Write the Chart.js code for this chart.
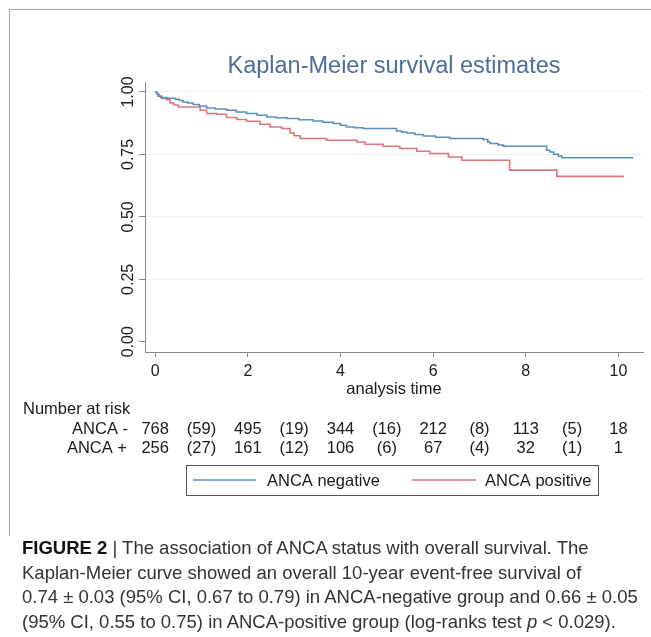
<!DOCTYPE html>
<html lang="en">

<head>
    <meta charset="UTF-8">
    <title>Kaplan-Meier survival estimates</title>
    <style>
        body { margin: 0; background: #fff; }
        #wrap { position: relative; width: 651px; height: 637px; overflow: hidden; }
        #caption {
            position: absolute; left: 22px; top: 536px;
            font-family: "Liberation Sans", Arial, sans-serif;
            font-size: 18.5px; line-height: 24.7px; color: #333;
            white-space: nowrap;
        }
        #caption b { color: #111; }
    </style>
</head>

<body>
    <div id="wrap">
        <canvas id="grafico1" width="651" height="637"></canvas>
        <div id="caption"><b>FIGURE 2</b> | The association of ANCA status with overall survival. The<br>Kaplan-Meier curve showed an overall 10-year event-free survival of<br>0.74 ± 0.03 (95% CI, 0.67 to 0.79) in ANCA-negative group and 0.66 ± 0.05<br>(95% CI, 0.55 to 0.75) in ANCA-positive group (log-ranks test <i>p</i> &lt; 0.029).</div>
    </div>

    <script src="https://cdn.jsdelivr.net/npm/chart.js"></script>
    <script>
        // curve: time (years) and survival after each step
        const tempoNeg = [0, 0.04, 0.08, 0.12, 0.25, 0.43, 0.52, 0.60, 0.70, 0.82, 0.95, 1.11, 1.30, 1.54, 1.75, 1.97,
            2.20, 2.41, 2.60, 2.84, 3.10, 3.41, 3.62, 3.85, 4.00, 4.13, 4.30, 4.49, 5.21, 5.32, 5.43, 5.60, 5.79,
            6.05, 6.36, 7.08, 7.18, 7.23, 7.40, 7.52, 8.45, 8.52, 8.60, 8.70, 8.78, 10.32]
        const survNeg = [1, 0.992, 0.984, 0.978, 0.975, 0.971, 0.966, 0.960, 0.956, 0.950, 0.944, 0.936, 0.932, 0.927, 0.920, 0.914,
            0.907, 0.900, 0.897, 0.894, 0.889, 0.884, 0.879, 0.874, 0.867, 0.860, 0.857, 0.854, 0.844, 0.840, 0.836, 0.830, 0.824,
            0.819, 0.814, 0.810, 0.800, 0.794, 0.788, 0.783, 0.767, 0.760, 0.751, 0.744, 0.737, 0.737]

        const tempoPos = [0, 0.03, 0.06, 0.14, 0.25, 0.32, 0.40, 0.50, 0.97, 1.11, 1.33, 1.54, 1.76, 1.97, 2.26, 2.48,
            2.73, 2.91, 3.00, 3.13, 3.70, 4.35, 4.53, 4.92, 5.28, 5.65, 5.93, 6.33, 6.62, 7.65, 8.67, 10.12]
        const survPos = [1, 0.992, 0.983, 0.974, 0.969, 0.956, 0.948, 0.940, 0.927, 0.914, 0.911, 0.898, 0.890, 0.883, 0.871, 0.860,
            0.854, 0.836, 0.825, 0.814, 0.807, 0.800, 0.791, 0.783, 0.774, 0.763, 0.754, 0.740, 0.727, 0.687, 0.662, 0.662]

        const ticksX = [0, 2, 4, 6, 8, 10]
        const ticksY = [0, 0.25, 0.5, 0.75, 1]
        const labelsY = ['0.00', '0.25', '0.50', '0.75', '1.00']

        // number at risk, one column per year (events in brackets)
        const colunasRisco = [0, 1, 2, 3, 4, 5, 6, 7, 8, 9, 10]
        const riscoNeg = ['768', '(59)', '495', '(19)', '344', '(16)', '212', '(8)', '113', '(5)', '18']
        const riscoPos = ['256', '(27)', '161', '(12)', '106', '(6)', '67', '(4)', '32', '(1)', '1']

        const grupos = ['ANCA negative', 'ANCA positive']
        const cores = ['#5a8ebf', '#dc767c']

        const fonte = '"Liberation Sans", Arial, sans-serif'
        Chart.defaults.font.family = fonte

        const pontos = (xs, ys) => xs.map((x, i) => ({ x: x, y: ys[i] }))

        const extras = {
            id: 'extras',
            afterDraw(chart) {
                const c = chart.ctx
                const sx = chart.scales.x
                const sy = chart.scales.y
                c.save()

                // outer frame (top and left only)
                c.strokeStyle = '#a8a8a8'
                c.lineWidth = 1
                c.beginPath()
                c.moveTo(9.5, 536)
                c.lineTo(9.5, 9.5)
                c.lineTo(651, 9.5)
                c.stroke()

                // title
                c.fillStyle = '#4d6e9c'
                c.font = '23.5px ' + fonte
                c.textAlign = 'center'
                c.textBaseline = 'alphabetic'
                c.fillText('Kaplan-Meier survival estimates', (chart.chartArea.left + chart.chartArea.right) / 2, 73)

                // tick labels
                c.fillStyle = '#1a1a1a'
                c.font = '16px ' + fonte
                ticksX.forEach(v => c.fillText(String(v), sx.getPixelForValue(v), 376))
                ticksY.forEach((v, i) => {
                    c.save()
                    c.translate(133, sy.getPixelForValue(v))
                    c.rotate(-Math.PI / 2)
                    c.fillText(labelsY[i], 0, 0)
                    c.restore()
                })

                c.font = '16.5px ' + fonte
                c.fillText('analysis time', (chart.chartArea.left + chart.chartArea.right) / 2, 394)

                // number at risk table
                c.textAlign = 'left'
                c.fillText('Number at risk', 23, 414)
                c.textAlign = 'right'
                c.fillText('ANCA -', 128, 434)
                c.fillText('ANCA +', 127, 452.5)
                c.textAlign = 'center'
                colunasRisco.forEach((t, i) => {
                    const px = sx.getPixelForValue(t)
                    c.fillText(riscoNeg[i], px, 434)
                    c.fillText(riscoPos[i], px, 452.5)
                })

                // legend
                c.strokeStyle = '#555'
                c.strokeRect(186.5, 465.5, 412, 30)
                const itens = [[193, 256, 267], [412, 476, 485]]
                itens.forEach((it, i) => {
                    c.strokeStyle = cores[i]
                    c.lineWidth = 1.6
                    c.beginPath()
                    c.moveTo(it[0], 480)
                    c.lineTo(it[1], 480)
                    c.stroke()
                    c.textAlign = 'left'
                    c.fillStyle = '#1a1a1a'
                    c.fillText(grupos[i], it[2], 486)
                })

                c.restore()
            }
        }

        const ctx = document.getElementById('grafico1')

        const grafico1 = new Chart(ctx, {
            type: 'scatter',
            data: {
                datasets: [{
                    label: grupos[0],
                    data: pontos(tempoNeg, survNeg),
                    showLine: true,
                    stepped: true,
                    borderColor: cores[0],
                    borderWidth: 1.6,
                    pointRadius: 0
                }, {
                    label: grupos[1],
                    data: pontos(tempoPos, survPos),
                    showLine: true,
                    stepped: true,
                    borderColor: cores[1],
                    borderWidth: 1.6,
                    pointRadius: 0
                }]
            },
            options: {
                responsive: false,
                animation: false,
                layout: { padding: { left: 139, right: 8, top: 82, bottom: 280 } },
                plugins: { legend: { display: false }, tooltip: { enabled: false } },
                scales: {
                    x: {
                        type: 'linear',
                        min: -0.22,
                        max: 10.53,
                        afterBuildTicks: s => { s.ticks = ticksX.map(v => ({ value: v })) },
                        ticks: { display: false },
                        grid: { drawOnChartArea: false, tickLength: 5, tickColor: '#8a8a8a' },
                        border: { color: '#8a8a8a', width: 1 }
                    },
                    y: {
                        min: -0.041,
                        max: 1.04,
                        afterBuildTicks: s => { s.ticks = ticksY.map(v => ({ value: v })) },
                        ticks: { display: false },
                        grid: {
                            color: c => c.tick && c.tick.value === 0 ? 'rgba(0,0,0,0)' : '#e8f2f3',
                            tickLength: 6,
                            tickColor: '#8a8a8a'
                        },
                        border: { color: '#8a8a8a', width: 1 }
                    }
                }
            },
            plugins: [extras]
        });
    </script>
</body>

</html>
